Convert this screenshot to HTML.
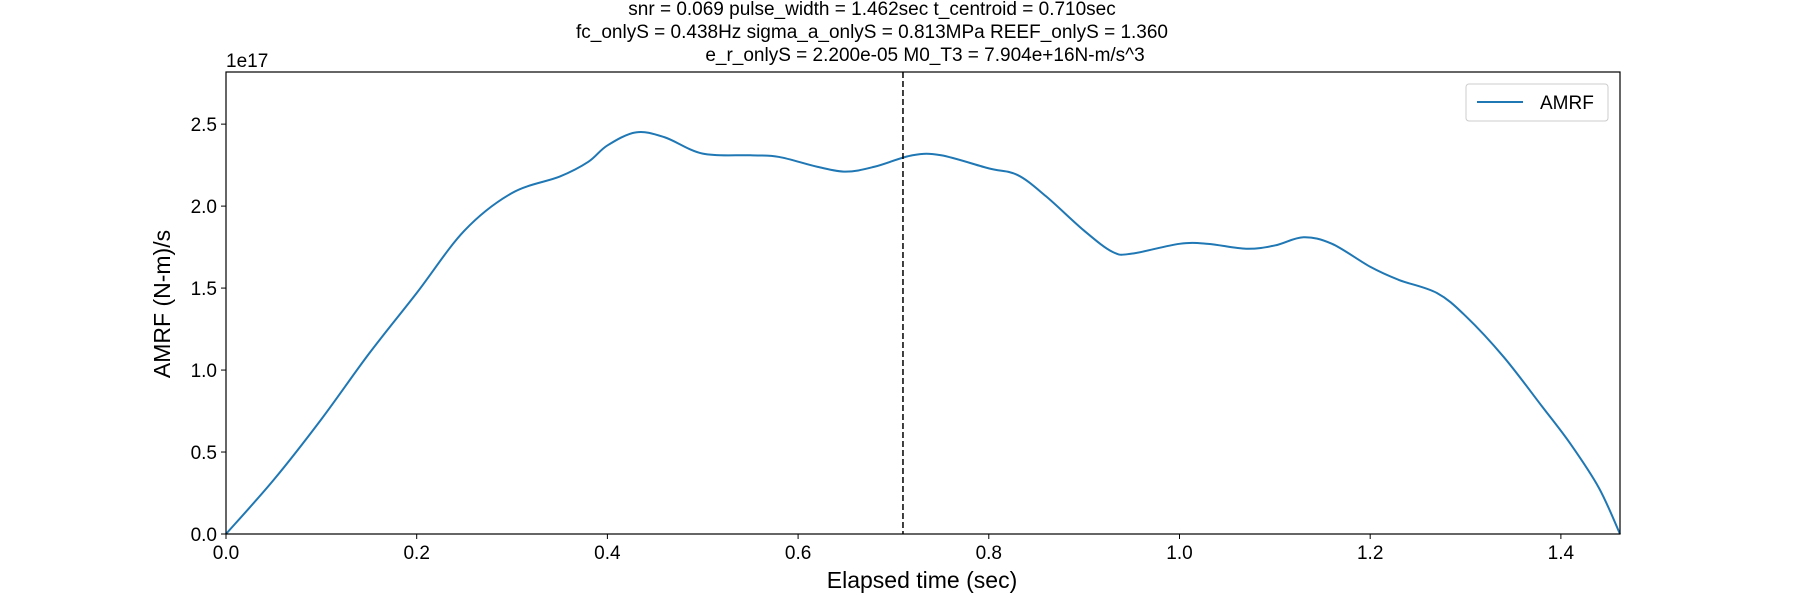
<!DOCTYPE html>
<html><head><meta charset="utf-8"><style>
body{margin:0;background:#fff}
svg{display:block;font-family:"Liberation Sans","DejaVu Sans",sans-serif}
</style></head><body>
<svg id="chart" width="1800" height="600">
<g font-size="19" fill="#000" text-anchor="middle">
<text x="872" y="15">snr = 0.069 pulse_width = 1.462sec t_centroid = 0.710sec</text>
<text x="872" y="38">fc_onlyS = 0.438Hz sigma_a_onlyS = 0.813MPa REEF_onlyS = 1.360</text>
<text x="925" y="61">e_r_onlyS = 2.200e-05 M0_T3 = 7.904e+16N-m/s^3</text>
</g>
<g id="plot"></g>
<rect x="226" y="72" width="1394" height="462" fill="none" stroke="#000" stroke-width="1.2"/>
<text x="226" y="67" font-size="19">1e17</text>
<text x="922" y="588" font-size="23" text-anchor="middle">Elapsed time (sec)</text>
<text transform="translate(170,304) rotate(-90)" font-size="23" text-anchor="middle">AMRF (N-m)/s</text>
<g>
<rect x="1466" y="84" width="142" height="37" rx="3" fill="#fff" stroke="#ccc"/>
<line x1="1477" y1="102" x2="1523" y2="102" stroke="#1f77b4" stroke-width="2"/>
<text x="1540" y="109" font-size="19">AMRF</text>
</g>
</svg>
<script>
const times=[0,0.05,0.1,0.15,0.2,0.25,0.3,0.35,0.38,0.4,0.43,0.46,0.5,0.55,0.58,0.62,0.65,0.68,0.72,0.75,0.8,0.83,0.86,0.9,0.93,0.95,1.0,1.03,1.07,1.1,1.13,1.16,1.2,1.23,1.27,1.3,1.34,1.38,1.41,1.44,1.462];
const amrf=[0,0.33,0.7,1.1,1.47,1.85,2.08,2.18,2.27,2.37,2.45,2.42,2.32,2.31,2.30,2.24,2.21,2.24,2.31,2.31,2.23,2.19,2.06,1.85,1.72,1.71,1.77,1.77,1.74,1.76,1.81,1.77,1.63,1.55,1.47,1.33,1.08,0.78,0.55,0.28,0];
const xTicks=[0,0.2,0.4,0.6,0.8,1.0,1.2,1.4];
const yTicks=[0,0.5,1.0,1.5,2.0,2.5];
const tCentroid=0.71;
const X0=226,X1=1620,Y0=534,Y1=72,xMax=1.462,yMax=2.818;
const sx=v=>X0+v/xMax*(X1-X0), sy=v=>Y0-v/yMax*(Y0-Y1);
const NS="http://www.w3.org/2000/svg";
const g=document.getElementById('plot');
function mk(t,a){const e=document.createElementNS(NS,t);for(const k in a)e.setAttribute(k,a[k]);g.appendChild(e);return e;}
xTicks.forEach(v=>{
 const l=mk('line',{x1:sx(v),x2:sx(v),y1:Y0,y2:Y0+5,stroke:'#000'});
 
 
 const t=mk('text',{x:sx(v),y:Y0+25,'font-size':19,'text-anchor':'middle'});
 t.textContent=v.toFixed(1);
 
 
});
yTicks.forEach(v=>{
 const l=mk('line',{x1:X0-5,x2:X0,y1:sy(v),y2:sy(v),stroke:'#000'});
 
 
 const t=mk('text',{x:X0-9,y:sy(v)+7,'font-size':19,'text-anchor':'end'});
 t.textContent=v.toFixed(1);
 
 
});
// smooth path via Catmull-Rom
const P=times.map((t,i)=>[sx(t),sy(amrf[i])]);
let d='M'+P[0][0]+','+P[0][1];
for(let i=0;i<P.length-1;i++){
 const p0=P[Math.max(0,i-1)],p1=P[i],p2=P[i+1],p3=P[Math.min(P.length-1,i+2)];
 d+=' C'+(p1[0]+(p2[0]-p0[0])/6)+','+(p1[1]+(p2[1]-p0[1])/6)+' '+(p2[0]-(p3[0]-p1[0])/6)+','+(p2[1]-(p3[1]-p1[1])/6)+' '+p2[0]+','+p2[1];
}
const line=mk('path',{d:d,fill:'none',stroke:'#1f77b4','stroke-width':2});


const c=mk('line',{x1:sx(tCentroid),x2:sx(tCentroid),y1:Y1,y2:Y0,stroke:'#000','stroke-width':1.5,'stroke-dasharray':'6,3'});


</script>
</body></html>
